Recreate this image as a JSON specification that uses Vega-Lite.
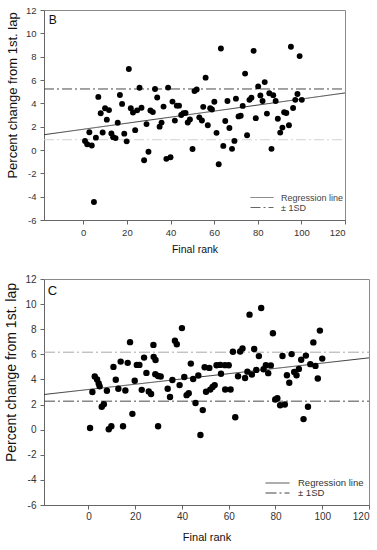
{
  "$schema": "https://vega.github.io/schema/vega-lite/v6.json",
  "padding": {"left": 4, "top": 4, "right": 2, "bottom": 2},
  "spacing": 17,
  "config": {
    "font": "Liberation Sans",
    "view": {"stroke": "#8a8a8a", "strokeWidth": 1},
    "axis": {
      "grid": false,
      "domainColor": "#666",
      "tickColor": "#666",
      "tickSize": 4,
      "labelColor": "#333",
      "titleColor": "#111",
      "titleFontWeight": "normal",
      "labelFont": "Liberation Sans",
      "titleFont": "Liberation Sans",
      "labelOverlap": false,
      "labelBound": false
    }
  },
  "resolve": {"scale": {"x": "independent", "y": "independent", "strokeDash": "independent", "color": "independent"}, "legend": {"strokeDash": "independent"}},
  "vconcat": [
    {
      "width": 301,
      "height": 210,
      "layer": [
        {
          "data": {"values": [
            {"series": "reg", "kind": "Regression line", "rank": -18, "pct": 1.31},
            {"series": "reg", "kind": "Regression line", "rank": 120, "pct": 4.89},
            {"series": "sdU", "kind": "± 1SD", "rank": -18, "pct": 5.23},
            {"series": "sdU", "kind": "± 1SD", "rank": 120, "pct": 5.23},
            {"series": "sdL", "kind": "± 1SD", "rank": -18, "pct": 0.88},
            {"series": "sdL", "kind": "± 1SD", "rank": 120, "pct": 0.88}
          ]},
          "mark": {"type": "line", "strokeWidth": 1},
          "encoding": {
            "x": {"field": "rank", "type": "quantitative", "scale": {"domain": [-18, 120], "nice": false, "zero": false},
              "axis": {"values": [0, 20, 40, 60, 80, 100, 120], "labelOverlap": false, "title": "Final rank", "labelFontSize": 9.5, "labelPadding": 3, "titleFontSize": 10.5, "titlePadding": 8}},
            "y": {"field": "pct", "type": "quantitative", "scale": {"domain": [-6, 12], "nice": false, "zero": false},
              "axis": {"values": [-6, -4, -2, 0, 2, 4, 6, 8, 10, 12], "labelOverlap": false, "labelExpr": "'' + datum.value", "title": "Percent change from 1st. lap", "labelFontSize": 9.5, "labelPadding": 4, "titleFontSize": 13, "titlePadding": 6, "titleY": 85}},
            "detail": {"field": "series"},
            "color": {"field": "series", "type": "nominal", "scale": {"domain": ["reg", "sdU", "sdL"], "range": ["#3a3a3a", "#4a4a4a", "#d2d2d2"]}, "legend": null},
            "strokeDash": {"field": "kind", "type": "nominal",
              "scale": {"domain": ["Regression line", "± 1SD"], "range": [[1, 0], [10, 3, 2, 3]]},
              "legend": {"title": null, "orient": "none", "legendX": 206, "legendY": 183, "padding": 0, "symbolType": "stroke", "symbolSize": 529, "symbolStrokeWidth": 1, "symbolStrokeColor": "#666", "clipHeight": 9, "rowPadding": 0, "labelOffset": 7, "labelFontSize": 9, "labelColor": "#444",
                "encode": {"symbols": {"update": {"stroke": {"value": "#666"}}}}}}
          }
        },
        {
          "data": {"values": [
            {"rank": 0.8, "pct": 0.78}, {"rank": 1.8, "pct": 0.49}, {"rank": 2.8, "pct": 1.52}, {"rank": 3.9, "pct": 0.38},
            {"rank": 4.9, "pct": -4.46}, {"rank": 5.8, "pct": 1.06}, {"rank": 6.9, "pct": 4.55}, {"rank": 8.0, "pct": 3.15},
            {"rank": 8.9, "pct": 1.5}, {"rank": 10.0, "pct": 3.58}, {"rank": 10.8, "pct": 2.6}, {"rank": 11.8, "pct": 3.42},
            {"rank": 12.9, "pct": 1.41}, {"rank": 13.7, "pct": 1.1}, {"rank": 14.8, "pct": 1.02}, {"rank": 15.8, "pct": 2.33},
            {"rank": 16.8, "pct": 4.72}, {"rank": 17.8, "pct": 3.95}, {"rank": 18.8, "pct": 1.4}, {"rank": 19.9, "pct": 0.74},
            {"rank": 20.9, "pct": 6.94}, {"rank": 21.8, "pct": 3.58}, {"rank": 22.8, "pct": 3.22}, {"rank": 23.8, "pct": 1.7},
            {"rank": 24.7, "pct": 3.4}, {"rank": 25.8, "pct": 5.34}, {"rank": 26.7, "pct": 3.62}, {"rank": 27.9, "pct": -0.88},
            {"rank": 29.0, "pct": 2.22}, {"rank": 29.9, "pct": -0.15}, {"rank": 30.8, "pct": 3.38}, {"rank": 31.9, "pct": 3.25},
            {"rank": 32.9, "pct": 5.23}, {"rank": 33.9, "pct": 4.5}, {"rank": 35.0, "pct": 2.0}, {"rank": 35.9, "pct": 2.35},
            {"rank": 36.8, "pct": 3.72}, {"rank": 38.1, "pct": -0.76}, {"rank": 38.9, "pct": 5.35}, {"rank": 40.0, "pct": -0.62},
            {"rank": 40.9, "pct": 4.15}, {"rank": 42.0, "pct": 2.52}, {"rank": 42.9, "pct": 3.8}, {"rank": 43.9, "pct": 3.8},
            {"rank": 44.9, "pct": 3.0}, {"rank": 45.9, "pct": 3.15}, {"rank": 46.9, "pct": 3.18}, {"rank": 47.9, "pct": 2.36},
            {"rank": 48.9, "pct": 2.62}, {"rank": 50.1, "pct": 0.08}, {"rank": 51.0, "pct": 5.05}, {"rank": 52.0, "pct": 5.18},
            {"rank": 53.2, "pct": 2.8}, {"rank": 54.4, "pct": 2.53}, {"rank": 55.0, "pct": 3.7}, {"rank": 56.1, "pct": 6.2},
            {"rank": 57.1, "pct": 2.12}, {"rank": 58.2, "pct": 3.58}, {"rank": 59.0, "pct": 3.47}, {"rank": 60.1, "pct": 4.13},
            {"rank": 61.1, "pct": 1.47}, {"rank": 62.1, "pct": -1.22}, {"rank": 63.1, "pct": 8.7}, {"rank": 64.2, "pct": 0.35},
            {"rank": 65.1, "pct": 2.48}, {"rank": 66.1, "pct": 4.2}, {"rank": 67.0, "pct": 1.88}, {"rank": 68.2, "pct": 0.1},
            {"rank": 69.3, "pct": 0.78}, {"rank": 70.0, "pct": 4.4}, {"rank": 71.2, "pct": 2.88}, {"rank": 72.2, "pct": 2.93},
            {"rank": 73.1, "pct": 3.78}, {"rank": 74.2, "pct": 6.55}, {"rank": 75.1, "pct": 1.27}, {"rank": 76.2, "pct": 4.3},
            {"rank": 77.1, "pct": 4.48}, {"rank": 78.1, "pct": 8.5}, {"rank": 79.1, "pct": 2.73}, {"rank": 80.2, "pct": 5.45},
            {"rank": 81.2, "pct": 4.68}, {"rank": 82.2, "pct": 4.2}, {"rank": 83.2, "pct": 5.82}, {"rank": 84.2, "pct": 3.12},
            {"rank": 85.3, "pct": 4.86}, {"rank": 86.3, "pct": 0.1}, {"rank": 87.1, "pct": 4.7}, {"rank": 88.2, "pct": 4.2},
            {"rank": 89.2, "pct": 2.68}, {"rank": 90.3, "pct": 1.49}, {"rank": 91.3, "pct": 1.92}, {"rank": 92.1, "pct": 3.24},
            {"rank": 93.1, "pct": 3.17}, {"rank": 94.3, "pct": 2.12}, {"rank": 95.2, "pct": 8.85}, {"rank": 96.2, "pct": 3.6},
            {"rank": 97.2, "pct": 4.3}, {"rank": 98.2, "pct": 4.8}, {"rank": 99.2, "pct": 8.05}, {"rank": 100.2, "pct": 4.3}
          ]},
          "mark": {"type": "circle", "size": 35, "color": "#000", "opacity": 1},
          "encoding": {
            "x": {"field": "rank", "type": "quantitative", "scale": {"domain": [-18, 120], "nice": false, "zero": false},
              "axis": {"values": [0, 20, 40, 60, 80, 100, 120], "labelOverlap": false, "title": "Final rank", "labelFontSize": 9.5, "labelPadding": 3, "titleFontSize": 10.5, "titlePadding": 8}},
            "y": {"field": "pct", "type": "quantitative", "scale": {"domain": [-6, 12], "nice": false, "zero": false},
              "axis": {"values": [-6, -4, -2, 0, 2, 4, 6, 8, 10, 12], "labelOverlap": false, "labelExpr": "'' + datum.value", "title": "Percent change from 1st. lap", "labelFontSize": 9.5, "labelPadding": 4, "titleFontSize": 13, "titlePadding": 6, "titleY": 85}}
          }
        },
        {
          "data": {"values": [{"label": "B"}]},
          "mark": {"type": "text", "align": "left", "baseline": "middle", "fontSize": 12, "color": "#111"},
          "encoding": {
            "x": {"datum": -15.8, "type": "quantitative", "scale": {"domain": [-18, 120], "nice": false, "zero": false},
              "axis": {"values": [0, 20, 40, 60, 80, 100, 120], "labelOverlap": false, "title": "Final rank", "labelFontSize": 9.5, "labelPadding": 3, "titleFontSize": 10.5, "titlePadding": 8}},
            "y": {"datum": 11.15, "type": "quantitative", "scale": {"domain": [-6, 12], "nice": false, "zero": false},
              "axis": {"values": [-6, -4, -2, 0, 2, 4, 6, 8, 10, 12], "labelOverlap": false, "labelExpr": "'' + datum.value", "title": "Percent change from 1st. lap", "labelFontSize": 9.5, "labelPadding": 4, "titleFontSize": 13, "titlePadding": 6, "titleY": 85}},
            "text": {"field": "label"}
          }
        }
      ]
    },
    {
      "width": 325,
      "height": 226,
      "layer": [
        {
          "data": {"values": [
            {"series": "reg", "kind": "Regression line", "rank": -19, "pct": 2.8},
            {"series": "reg", "kind": "Regression line", "rank": 120, "pct": 5.72},
            {"series": "sdU", "kind": "± 1SD", "rank": -19, "pct": 6.17},
            {"series": "sdU", "kind": "± 1SD", "rank": 120, "pct": 6.17},
            {"series": "sdL", "kind": "± 1SD", "rank": -19, "pct": 2.27},
            {"series": "sdL", "kind": "± 1SD", "rank": 120, "pct": 2.27}
          ]},
          "mark": {"type": "line", "strokeWidth": 1},
          "encoding": {
            "x": {"field": "rank", "type": "quantitative", "scale": {"domain": [-19, 120], "nice": false, "zero": false},
              "axis": {"values": [0, 20, 40, 60, 80, 100, 120], "labelOverlap": false, "title": "Final rank", "labelFontSize": 10, "labelPadding": 2, "titleFontSize": 11, "titlePadding": 10}},
            "y": {"field": "pct", "type": "quantitative", "scale": {"domain": [-6, 12], "nice": false, "zero": false},
              "axis": {"values": [-6, -4, -2, 0, 2, 4, 6, 8, 10, 12], "labelOverlap": false, "labelExpr": "'' + datum.value", "title": "Percent change from 1st. lap", "labelFontSize": 10, "labelPadding": 4, "titleFontSize": 14, "titlePadding": 6, "titleY": 93}},
            "detail": {"field": "series"},
            "color": {"field": "series", "type": "nominal", "scale": {"domain": ["reg", "sdU", "sdL"], "range": ["#3a3a3a", "#a8a8a8", "#4a4a4a"]}, "legend": null},
            "strokeDash": {"field": "kind", "type": "nominal",
              "scale": {"domain": ["Regression line", "± 1SD"], "range": [[1, 0], [11, 3, 2, 3]]},
              "legend": {"title": null, "orient": "none", "legendX": 221, "legendY": 199, "padding": 0, "symbolType": "stroke", "symbolSize": 576, "symbolStrokeWidth": 1, "symbolStrokeColor": "#444", "clipHeight": 10, "rowPadding": 0, "labelOffset": 8, "labelFontSize": 9.5, "labelColor": "#333",
                "encode": {"symbols": {"update": {"stroke": {"value": "#444"}}}}}}
          }
        },
        {
          "data": {"values": [
            {"rank": 0.7, "pct": 0.13}, {"rank": 1.7, "pct": 3.0}, {"rank": 2.7, "pct": 4.23}, {"rank": 3.7, "pct": 4.0},
            {"rank": 4.4, "pct": 3.68}, {"rank": 4.8, "pct": 3.45}, {"rank": 5.7, "pct": 1.83}, {"rank": 6.6, "pct": 2.03},
            {"rank": 7.9, "pct": 3.1}, {"rank": 8.7, "pct": 0.03}, {"rank": 9.8, "pct": 0.27}, {"rank": 10.7, "pct": 5.0},
            {"rank": 11.7, "pct": 3.97}, {"rank": 12.8, "pct": 3.26}, {"rank": 13.8, "pct": 5.42}, {"rank": 14.8, "pct": 0.27},
            {"rank": 15.8, "pct": 3.12}, {"rank": 16.8, "pct": 5.32}, {"rank": 17.8, "pct": 6.97}, {"rank": 18.8, "pct": 1.26},
            {"rank": 19.8, "pct": 3.9}, {"rank": 20.7, "pct": 5.16}, {"rank": 21.8, "pct": 5.16}, {"rank": 22.8, "pct": 3.17},
            {"rank": 23.8, "pct": 5.74}, {"rank": 24.8, "pct": 4.52}, {"rank": 25.8, "pct": 3.04}, {"rank": 26.8, "pct": 2.84},
            {"rank": 27.8, "pct": 6.75}, {"rank": 27.9, "pct": 5.8}, {"rank": 28.7, "pct": 5.55}, {"rank": 28.6, "pct": 4.42},
            {"rank": 29.8, "pct": 4.28}, {"rank": 29.8, "pct": 0.27}, {"rank": 30.9, "pct": 4.23}, {"rank": 33.9, "pct": 3.26},
            {"rank": 34.9, "pct": 2.6}, {"rank": 35.9, "pct": 3.96}, {"rank": 37.0, "pct": 7.08}, {"rank": 37.8, "pct": 6.8},
            {"rank": 39.0, "pct": 3.55}, {"rank": 40.0, "pct": 8.09}, {"rank": 41.0, "pct": 4.19}, {"rank": 42.0, "pct": 2.75},
            {"rank": 42.9, "pct": 2.9}, {"rank": 43.8, "pct": 5.26}, {"rank": 44.8, "pct": 4.04}, {"rank": 45.8, "pct": 2.12},
            {"rank": 47.0, "pct": 4.31}, {"rank": 47.9, "pct": -0.43}, {"rank": 48.9, "pct": 1.56}, {"rank": 49.7, "pct": 4.97},
            {"rank": 50.3, "pct": 3.02}, {"rank": 51.7, "pct": 4.92}, {"rank": 52.1, "pct": 3.19}, {"rank": 53.1, "pct": 3.4},
            {"rank": 54.0, "pct": 3.55}, {"rank": 54.8, "pct": 5.13}, {"rank": 56.4, "pct": 5.16}, {"rank": 56.7, "pct": 4.45},
            {"rank": 58.4, "pct": 5.14}, {"rank": 58.5, "pct": 3.2}, {"rank": 60.0, "pct": 5.13}, {"rank": 60.8, "pct": 3.2},
            {"rank": 61.8, "pct": 6.2}, {"rank": 62.8, "pct": 0.99}, {"rank": 64.0, "pct": 4.26}, {"rank": 64.9, "pct": 6.22},
            {"rank": 65.9, "pct": 6.46}, {"rank": 67.0, "pct": 4.12}, {"rank": 68.0, "pct": 4.62}, {"rank": 68.9, "pct": 9.16},
            {"rank": 69.9, "pct": 4.39}, {"rank": 70.9, "pct": 6.43}, {"rank": 71.8, "pct": 4.76}, {"rank": 72.9, "pct": 5.86},
            {"rank": 73.9, "pct": 9.69}, {"rank": 74.9, "pct": 4.81}, {"rank": 75.9, "pct": 5.13}, {"rank": 76.9, "pct": 4.5},
            {"rank": 78.0, "pct": 5.12}, {"rank": 78.9, "pct": 7.68}, {"rank": 79.9, "pct": 2.4}, {"rank": 80.8, "pct": 2.5},
            {"rank": 82.0, "pct": 1.94}, {"rank": 83.0, "pct": 5.87}, {"rank": 84.0, "pct": 2.0}, {"rank": 84.9, "pct": 4.34},
            {"rank": 85.9, "pct": 3.74}, {"rank": 86.9, "pct": 6.02}, {"rank": 88.0, "pct": 4.6}, {"rank": 89.0, "pct": 4.34},
            {"rank": 90.0, "pct": 4.84}, {"rank": 91.0, "pct": 5.57}, {"rank": 92.0, "pct": 0.84}, {"rank": 93.0, "pct": 5.9},
            {"rank": 93.9, "pct": 1.83}, {"rank": 94.9, "pct": 5.22}, {"rank": 96.2, "pct": 6.95}, {"rank": 97.1, "pct": 5.08},
            {"rank": 98.1, "pct": 4.07}, {"rank": 99.0, "pct": 7.89}, {"rank": 100.0, "pct": 5.66}
          ]},
          "mark": {"type": "circle", "size": 41, "color": "#000", "opacity": 1},
          "encoding": {
            "x": {"field": "rank", "type": "quantitative", "scale": {"domain": [-19, 120], "nice": false, "zero": false},
              "axis": {"values": [0, 20, 40, 60, 80, 100, 120], "labelOverlap": false, "title": "Final rank", "labelFontSize": 10, "labelPadding": 2, "titleFontSize": 11, "titlePadding": 10}},
            "y": {"field": "pct", "type": "quantitative", "scale": {"domain": [-6, 12], "nice": false, "zero": false},
              "axis": {"values": [-6, -4, -2, 0, 2, 4, 6, 8, 10, 12], "labelOverlap": false, "labelExpr": "'' + datum.value", "title": "Percent change from 1st. lap", "labelFontSize": 10, "labelPadding": 4, "titleFontSize": 14, "titlePadding": 6, "titleY": 93}}
          }
        },
        {
          "data": {"values": [{"label": "C"}]},
          "mark": {"type": "text", "align": "left", "baseline": "middle", "fontSize": 13, "color": "#111"},
          "encoding": {
            "x": {"datum": -17.4, "type": "quantitative", "scale": {"domain": [-19, 120], "nice": false, "zero": false},
              "axis": {"values": [0, 20, 40, 60, 80, 100, 120], "labelOverlap": false, "title": "Final rank", "labelFontSize": 10, "labelPadding": 2, "titleFontSize": 11, "titlePadding": 10}},
            "y": {"datum": 11.07, "type": "quantitative", "scale": {"domain": [-6, 12], "nice": false, "zero": false},
              "axis": {"values": [-6, -4, -2, 0, 2, 4, 6, 8, 10, 12], "labelOverlap": false, "labelExpr": "'' + datum.value", "title": "Percent change from 1st. lap", "labelFontSize": 10, "labelPadding": 4, "titleFontSize": 14, "titlePadding": 6, "titleY": 93}},
            "text": {"field": "label"}
          }
        }
      ]
    }
  ]
}
